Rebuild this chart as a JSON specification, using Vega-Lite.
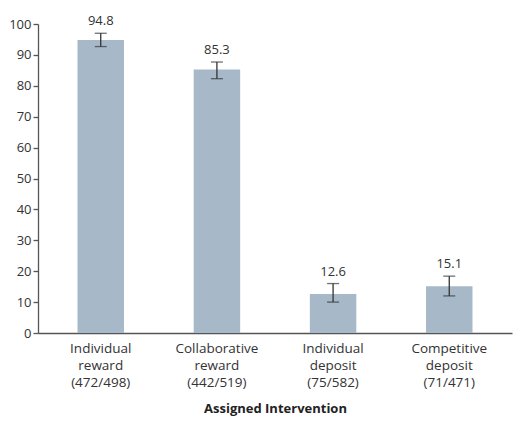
{
  "$schema": "https://vega.github.io/schema/vega-lite/v6.json",
  "autosize": "none",
  "width": 474,
  "height": 309,
  "padding": {"left": 38, "top": 24, "right": 6, "bottom": 92},
  "background": "white",
  "data": {
    "values": [
      {"group": "Individual|reward|(472/498)", "pct": 94.8, "lo": 92.7, "hi": 97.0},
      {"group": "Collaborative|reward|(442/519)", "pct": 85.3, "lo": 82.3, "hi": 87.7},
      {"group": "Individual|deposit|(75/582)", "pct": 12.6, "lo": 10.0, "hi": 16.0},
      {"group": "Competitive|deposit|(71/471)", "pct": 15.1, "lo": 12.0, "hi": 18.4}
    ]
  },
  "encoding": {
    "x": {
      "field": "group",
      "type": "nominal",
      "sort": null,
      "scale": {"paddingInner": 0.6, "paddingOuter": 0.34},
      "title": "Assigned Intervention",
      "axis": {
        "labelAngle": 0,
        "labelExpr": "split(datum.label, '|')",
        "labelLineHeight": 17,
        "labelPadding": 8,
        "labelFontSize": 13.5,
        "ticks": false,
        "titlePadding": 14
      }
    }
  },
  "layer": [
    {
      "mark": {"type": "bar", "color": "#a7b9c9"},
      "encoding": {
        "y": {"field": "pct", "type": "quantitative", "scale": {"domain": [0, 100]}, "title": null}
      }
    },
    {
      "mark": {"type": "rule", "color": "#333333", "strokeWidth": 1.3},
      "encoding": {"y": {"field": "lo", "type": "quantitative", "title": null}, "y2": {"field": "hi"}}
    },
    {
      "mark": {"type": "tick", "color": "#333333", "size": 12, "thickness": 1.3},
      "encoding": {"y": {"field": "lo", "type": "quantitative", "title": null}}
    },
    {
      "mark": {"type": "tick", "color": "#333333", "size": 12, "thickness": 1.3},
      "encoding": {"y": {"field": "hi", "type": "quantitative", "title": null}}
    },
    {
      "mark": {"type": "text", "baseline": "bottom", "dy": -5, "fontSize": 13, "color": "#333333"},
      "encoding": {
        "y": {"field": "hi", "type": "quantitative", "title": null},
        "text": {"field": "pct", "type": "quantitative", "format": ".1f"}
      }
    }
  ],
  "config": {
    "font": "Open Sans",
    "view": {"stroke": null},
    "axis": {
      "domainColor": "#555555",
      "domainWidth": 1.3,
      "tickColor": "#555555",
      "tickWidth": 1.3,
      "labelColor": "#333333",
      "labelFontSize": 13,
      "titleFontSize": 13,
      "titleColor": "#222222",
      "titleFontWeight": "bold"
    },
    "axisY": {
      "values": [0, 10, 20, 30, 40, 50, 60, 70, 80, 90, 100],
      "labelOverlap": false,
      "grid": false,
      "tickSize": 5,
      "labelPadding": 2
    }
  }
}
